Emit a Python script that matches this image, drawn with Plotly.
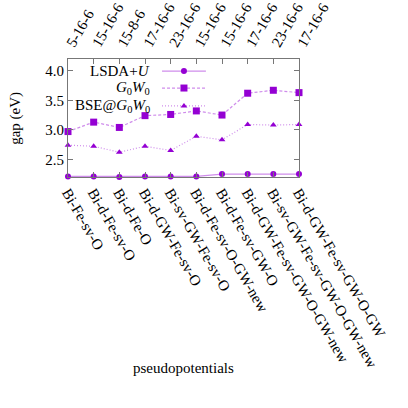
import plotly.graph_objects as go

# 数据
pseudos = ['Bi-Fe-sv-O', 'Bi-d-Fe-sv-O', 'Bi-d-Fe-O', 'Bi-d-GW-Fe-sv-O',
           'Bi-sv-GW-Fe-sv-O', 'Bi-d-Fe-sv-O-GW-new', 'Bi-d-Fe-sv-GW-O',
           'Bi-d-GW-Fe-sv-GW-O-GW-new', 'Bi-sv-GW-Fe-sv-GW-O-GW-new',
           'Bi-d-GW-Fe-sv-GW-O-GW']
valence = ['5-16-6', '15-16-6', '15-8-6', '17-16-6', '23-16-6',
           '15-16-6', '15-16-6', '17-16-6', '23-16-6', '17-16-6']
lsda_u = [2.21, 2.21, 2.20, 2.21, 2.21, 2.21, 2.25, 2.25, 2.25, 2.25]
g0w0 = [2.97, 3.13, 3.04, 3.24, 3.26, 3.32, 3.25, 3.62, 3.67, 3.63]
bse = [2.74, 2.72, 2.62, 2.72, 2.65, 2.89, 2.83, 3.09, 3.08, 3.09]
ytick = [2.5, 3.0, 3.5, 4.0]

idx = list(range(len(pseudos)))

紫 = '#9400d3'
线色 = 'rgba(148,0,211,0.45)'
字体 = 'Liberation Serif'
轴色 = '#777777'

fig = go.Figure()

系列 = [
    ('LSDA+<i>U</i>', lsda_u, 'solid', 'circle', 6),
    ('<i>G</i><sub>0</sub><i>W</i><sub>0</sub>', g0w0, '3px,2px', 'square', 7),
    ('BSE@<i>G</i><sub>0</sub><i>W</i><sub>0</sub>', bse, '1px,2px', 'triangle-up', 6),
]

for 名, 值, 线型, 符号, 大小 in 系列:
    fig.add_trace(go.Scatter(
        x=idx, y=值, mode='lines+markers', name=名,
        line=dict(color=线色, width=1.2, dash=线型),
        marker=dict(color=紫, symbol=符号, size=大小),
        cliponaxis=False, showlegend=False
    ))

# 顶部轴、右侧轴占位
fig.add_trace(go.Scatter(x=idx, y=g0w0, xaxis='x2', mode='markers',
                         marker=dict(opacity=0), showlegend=False, hoverinfo='skip'))
fig.add_trace(go.Scatter(x=idx, y=g0w0, yaxis='y2', mode='markers',
                         marker=dict(opacity=0), showlegend=False, hoverinfo='skip'))

# 手绘图例（文字在左，样例在右）
图例y = [0.898, 0.754, 0.602]
for (名, 值, 线型, 符号, 大小), yy in zip(系列, 图例y):
    fig.add_trace(go.Scatter(
        x=[0.407, 0.502, 0.597], y=[yy, yy, yy], xaxis='x3', yaxis='y3',
        mode='lines', line=dict(color=线色, width=1.2, dash=线型),
        showlegend=False, hoverinfo='skip', cliponaxis=False
    ))
    fig.add_trace(go.Scatter(
        x=[0.502], y=[yy], xaxis='x3', yaxis='y3', mode='markers',
        marker=dict(color=紫, symbol=符号, size=大小),
        showlegend=False, hoverinfo='skip', cliponaxis=False
    ))
    fig.add_annotation(text=名, x=0.364, y=yy, xref='paper', yref='paper',
                       xanchor='right', yanchor='middle', showarrow=False,
                       font=dict(family=字体, size=15, color='black'))

fig.add_annotation(text='gap (eV)', x=-0.23, y=0.5, xref='paper', yref='paper',
                   xanchor='center', yanchor='middle', textangle=-90, showarrow=False,
                   font=dict(family=字体, size=15, color='black'))
fig.add_annotation(text='pseudopotentials', x=0.5, y=-1.62, xref='paper', yref='paper',
                   showarrow=False, xanchor='center', yanchor='middle',
                   font=dict(family=字体, size=15, color='black'))

公共轴 = dict(showline=True, linecolor=轴色, linewidth=1, mirror=False,
            ticks='inside', ticklen=5, tickcolor=轴色, showgrid=False,
            zeroline=False, automargin=False,
            tickfont=dict(family=字体, size=15, color='black'))

fig.update_layout(
    width=408, height=408,
    margin=dict(l=68, r=109, t=59, b=231, autoexpand=False),
    plot_bgcolor='white', paper_bgcolor='white',
    xaxis=dict(**公共轴, range=[0, 9], tickvals=idx, ticktext=pseudos, tickangle=60),
    xaxis2=dict(**公共轴, range=[0, 9], tickvals=idx, ticktext=valence, tickangle=-60,
                overlaying='x', side='top', anchor='y'),
    xaxis3=dict(range=[0, 1], overlaying='x', visible=False),
    yaxis=dict(**公共轴, range=[2.2, 4.2], tickvals=ytick,
               ticktext=[f'{v:.1f}' for v in ytick]),
    yaxis2=dict(**公共轴, range=[2.2, 4.2], tickvals=ytick,
                showticklabels=False, overlaying='y', side='right', anchor='x'),
    yaxis3=dict(range=[0, 1], overlaying='y', visible=False, anchor='x3'),
)

# 去掉页面默认边距，关闭工具栏
fig.write_html('out.html', config={'displayModeBar': False},
               post_script="document.body.style.margin='0';")
